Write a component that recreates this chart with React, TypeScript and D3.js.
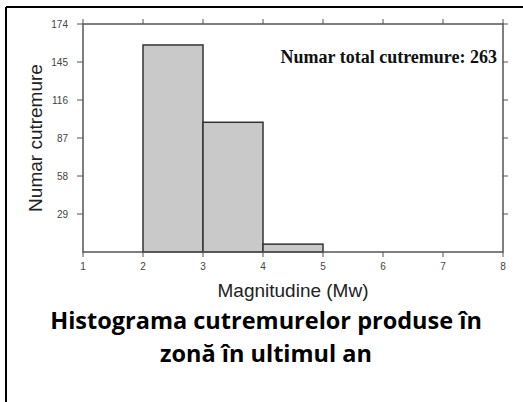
import React from "react";
import * as d3 from "d3";

// histogram bins (magnitude Mw) and counts
const binStarts = [2, 3, 4];
const binEnds = [3, 4, 5];
const counts = [158, 99, 6];
const xTicks = [1, 2, 3, 4, 5, 6, 7, 8];
const yTicks = [29, 58, 87, 116, 145, 174];
const total = 263;

const W = 523;
const H = 402;
const left = 83, right = 503, top = 24, bottom = 252;

export default function App() {
  const x = d3.scaleLinear().domain([1, 8]).range([left, right]);
  const y = d3.scaleLinear().domain([0, 174]).range([bottom, top]);
  const axisColor = "#555";
  const tickFont = "'Liberation Sans', Arial, sans-serif";

  return (
    <div style={{ position: "fixed", left: 0, top: 0, width: W, height: H, background: "#fff" }}>
      <svg width={W} height={H} style={{ display: "block" }}>
        {/* outer frame */}
        <line x1={6} y1={7} x2={W} y2={7} stroke="#000" strokeWidth={2} />
        <line x1={6} y1={7} x2={6} y2={H} stroke="#000" strokeWidth={2} />

        {/* bars */}
        {counts.map((c, i) => (
          <rect
            key={i}
            x={x(binStarts[i])}
            y={y(c)}
            width={x(binEnds[i]) - x(binStarts[i])}
            height={y(0) - y(c)}
            fill="#c9c9c9"
            stroke="#333"
            strokeWidth={1.5}
          />
        ))}

        {/* plot frame */}
        <rect x={left} y={top} width={right - left} height={bottom - top} fill="none" stroke={axisColor} strokeWidth={1.5} />

        {/* x ticks bottom and top */}
        {xTicks.map((t) => (
          <g key={"x" + t}>
            <line x1={x(t)} x2={x(t)} y1={bottom} y2={bottom + 5} stroke={axisColor} strokeWidth={1} />
            <line x1={x(t)} x2={x(t)} y1={top} y2={top - 5} stroke={axisColor} strokeWidth={1} />
            <text x={x(t)} y={bottom + 18} textAnchor="middle" fontFamily={tickFont} fontSize={10} fill="#444">
              {t}
            </text>
          </g>
        ))}

        {/* y ticks left and right */}
        {yTicks.map((t) => (
          <g key={"y" + t}>
            <line x1={left - 6} x2={left} y1={y(t)} y2={y(t)} stroke={axisColor} strokeWidth={1} />
            <line x1={right} x2={right + 5} y1={y(t)} y2={y(t)} stroke={axisColor} strokeWidth={1} />
            <text x={left - 15} y={y(t) + 3.5} textAnchor="end" fontFamily={tickFont} fontSize={10} fill="#444">
              {t}
            </text>
          </g>
        ))}

        {/* axis labels */}
        <text
          transform={`translate(42,${(top + bottom) / 2}) rotate(-90)`}
          textAnchor="middle"
          fontFamily={tickFont}
          fontSize={19}
          fill="#222"
        >
          Numar cutremure
        </text>
        <text x={(left + right) / 2} y={297} textAnchor="middle" fontFamily={tickFont} fontSize={19} fill="#222">
          Magnitudine (Mw)
        </text>

        {/* annotation */}
        <text
          x={497}
          y={63}
          textAnchor="end"
          fontFamily="'Liberation Serif', 'Times New Roman', serif"
          fontWeight="bold"
          fontSize={18}
          fill="#111"
        >
          Numar total cutremure: {total}
        </text>

        {/* caption */}
        <text x={266} y={329} textAnchor="middle" fontFamily="'Open Sans', sans-serif" fontWeight="bold" fontSize={23.5} fill="#000">
          Histograma cutremurelor produse în
        </text>
        <text x={266} y={362} textAnchor="middle" fontFamily="'Open Sans', sans-serif" fontWeight="bold" fontSize={23.5} fill="#000">
          zonă în ultimul an
        </text>
      </svg>
    </div>
  );
}
